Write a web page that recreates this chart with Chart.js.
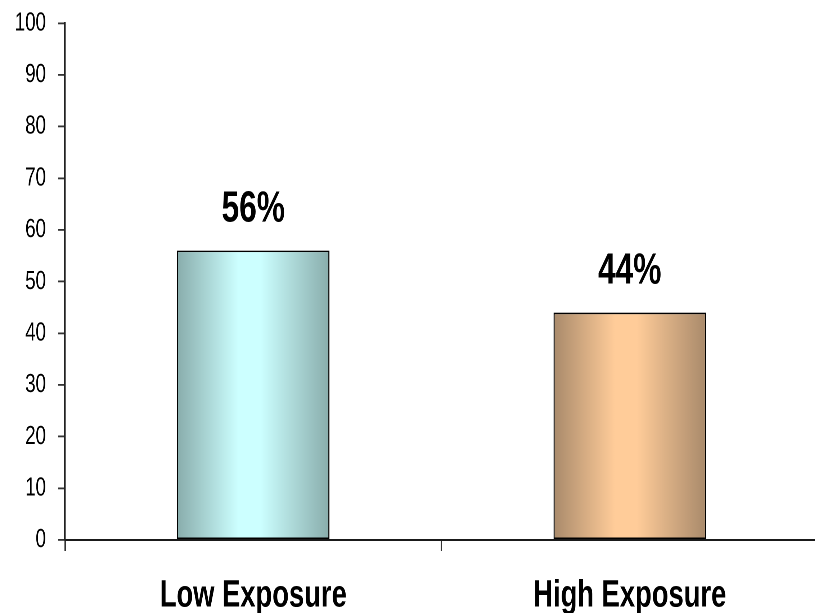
<!DOCTYPE html>
<html>
<head>
<meta charset="utf-8">
<script src="https://cdn.jsdelivr.net/npm/chart.js@4/dist/chart.umd.min.js"></script>
<style>
  html, body { margin: 0; padding: 0; background: #fff; overflow: hidden; }
  #wrap { width: 815px; height: 613px; overflow: hidden; position: relative; }
  /* The chart is laid out wide and squeezed horizontally, giving narrow lettering */
  #box { width: 1150px; height: 613px; position: absolute; left: 0; top: 0;
         transform: scaleX(0.72); transform-origin: 0 0; }
</style>
</head>
<body>
<div id="wrap"><div id="box"><canvas id="c"></canvas></div></div>
<script>
// Exposure groups and the share of respondents in each (percent)
const categories = ['Low Exposure', 'High Exposure'];
const shares = [56, 44];
const valueLabels = ['56%', '44%'];
const yTicks = [0, 10, 20, 30, 40, 50, 60, 70, 80, 90, 100];

// Edge / centre colours of the cylinder-like shading for each bar
const edgeColors = ['#89adac', '#a98a6b'];
const centreColors = ['#ccffff', '#ffcc99'];

const SX = 0.72;              // horizontal squeeze applied to the whole chart
const FONT = "'Liberation Sans', Arial, sans-serif";
const BAR_PCT = 0.405;

function barFill(ctx) {
  const chart = ctx.chart;
  const xs = chart.scales.x;
  if (!xs || !chart.chartArea) return centreColors[ctx.dataIndex];
  const i = ctx.dataIndex;
  const cx = xs.getPixelForValue(i);
  const half = (xs.width / categories.length) * BAR_PCT / 2;
  const g = chart.ctx.createLinearGradient(cx - half, 0, cx + half, 0);
  g.addColorStop(0, edgeColors[i]);
  g.addColorStop(0.4, centreColors[i]);
  g.addColorStop(0.55, centreColors[i]);
  g.addColorStop(1, edgeColors[i]);
  return g;
}

// Percentage printed above each bar, taken from the bar's own value
const barValueLabels = {
  id: 'barValueLabels',
  afterDatasetsDraw(chart) {
    const { ctx } = chart;
    const meta = chart.getDatasetMeta(0);
    ctx.save();
    ctx.font = 'bold 44px ' + FONT;
    ctx.fillStyle = '#000';
    ctx.textAlign = 'center';
    ctx.textBaseline = 'alphabetic';
    meta.data.forEach((bar, i) => {
      ctx.fillText(valueLabels[i], bar.x, bar.y - 29);
    });
    ctx.restore();
  }
};

new Chart(document.getElementById('c'), {
  type: 'bar',
  data: {
    labels: categories,
    datasets: [{
      data: shares,
      backgroundColor: barFill,
      borderColor: '#000',
      borderWidth: 1.6,
      borderSkipped: false,
      barPercentage: BAR_PCT,
      categoryPercentage: 1
    }]
  },
  options: {
    responsive: true,
    maintainAspectRatio: false,
    animation: false,
    devicePixelRatio: 2,
    layout: { padding: { top: 18, right: 1150 - 818 / SX, left: 0, bottom: 0 } },
    plugins: { legend: { display: false }, tooltip: { enabled: false } },
    scales: {
      x: {
        offset: true,
        grid: { offset: true, drawOnChartArea: false, drawTicks: true, tickLength: 11, color: '#333', lineWidth: 2 },
        border: { display: true, color: '#1a1a1a', width: 2 },
        ticks: { color: '#000', font: { family: FONT, size: 38, weight: 'bold' }, padding: 22, maxRotation: 0 },
        afterFit(scale) { scale.height = 73; }
      },
      y: {
        min: 0,
        max: 100,
        afterBuildTicks(scale) { scale.ticks = yTicks.map(v => ({ value: v })); },
        grid: { drawOnChartArea: false, drawTicks: true, tickLength: 7 / SX, color: '#333', lineWidth: 1.8 },
        border: { display: true, color: '#222', width: 2.2 },
        ticks: { color: '#000', font: { family: FONT, size: 26, lineHeight: 0.5 }, padding: 12 / SX },
        afterFit(scale) { scale.width = 65 / SX; }
      }
    }
  },
  plugins: [barValueLabels]
});
</script>
</body>
</html>
